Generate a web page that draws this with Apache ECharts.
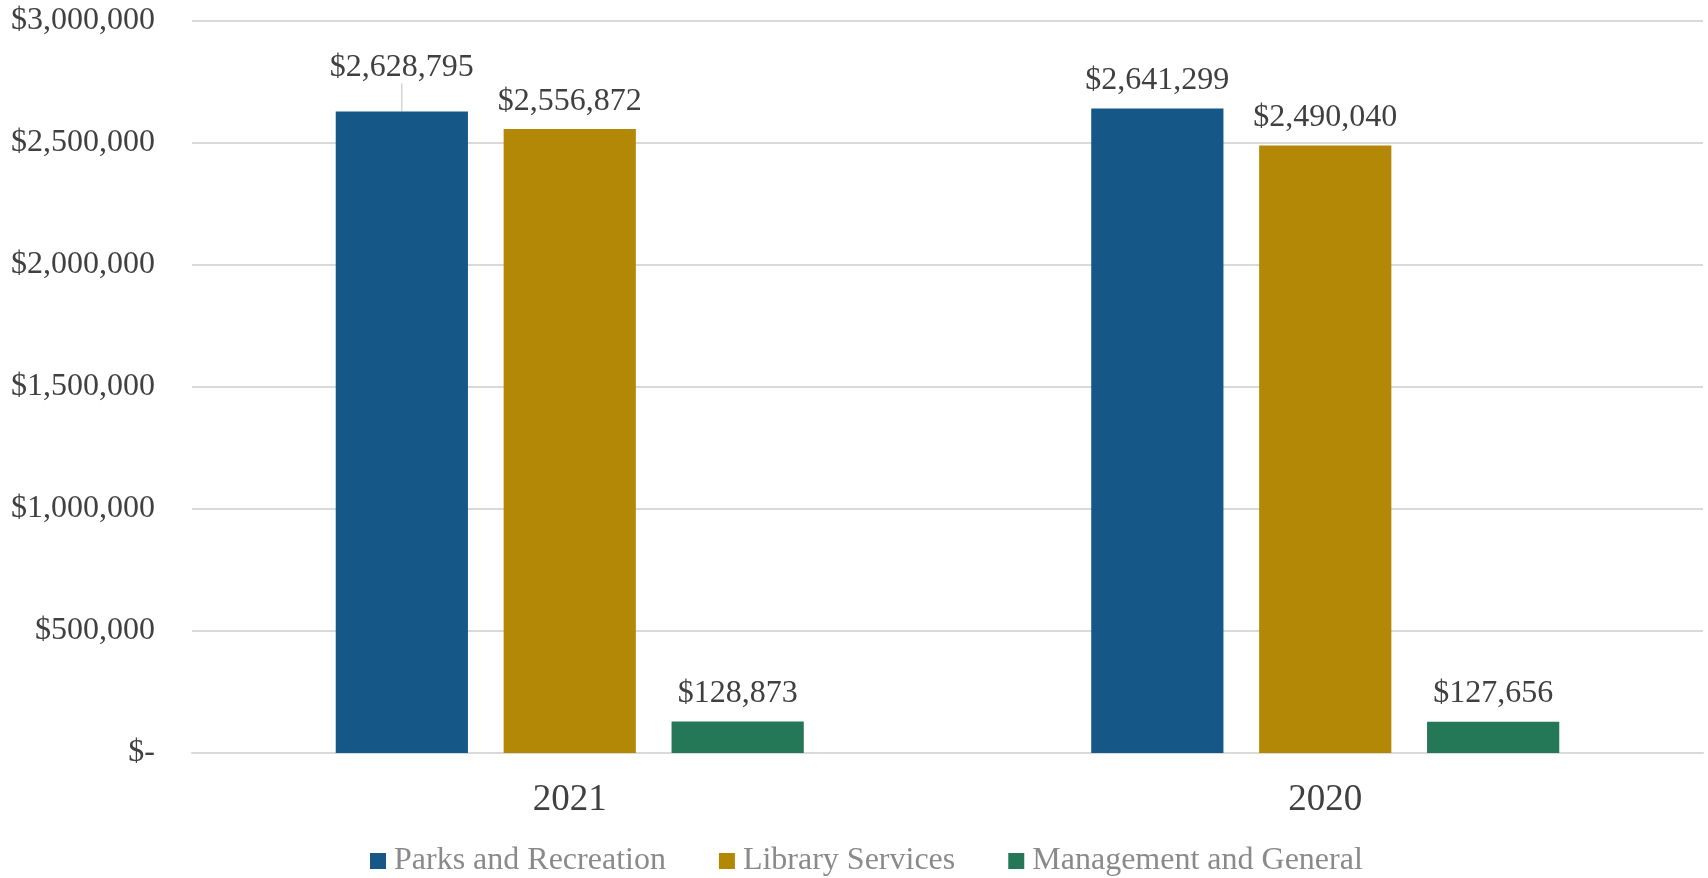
<!DOCTYPE html>
<html>
<head>
<meta charset="utf-8">
<script src="https://cdn.jsdelivr.net/npm/echarts@6/dist/echarts.min.js"></script>
<style>
html,body{margin:0;padding:0;background:#fff;}
#chart{width:1708px;height:878px;}
</style>
</head>
<body>
<div id="chart"></div>
<script>
var categories = ['2021', '2020'];
var seriesNames = ['Parks and Recreation', 'Library Services', 'Management and General'];
var parksValues = [2628795, 2641299];
var libraryValues = [2556872, 2490040];
var managementValues = [128873, 127656];
var yTickMax = 3000000;
var yTickInterval = 500000;
var colors = ['#155787', '#B38807', '#257857'];

var FONT = "'Liberation Serif', 'Times New Roman', serif";

function money(v) {
  if (v === 0) return '$-';
  return '$' + v.toLocaleString('en-US');
}

var chart = echarts.init(document.getElementById('chart'), null, {renderer: 'canvas'});

function mkSeries(name, values, color, idx) {
  var data = values.map(function (v, i) {
    var item = {value: v};
    if (idx === 0 && i === 0) {
      item.labelLine = {show: true, lineStyle: {color: '#bfbfbf', width: 1}};
    } else {
      item.labelLine = {show: false};
    }
    return item;
  });
  return {
    name: name,
    type: 'bar',
    data: data,
    barWidth: '17.5%',
    barGap: '27%',
    barCategoryGap: '38%',
    itemStyle: {color: color},
    label: {
      show: true,
      position: 'top',
      distance: 12,
      fontFamily: FONT,
      fontSize: 32,
      color: '#404040',
      formatter: function (p) { return money(p.value); }
    },
    labelLayout: idx === 0 ? function (p) {
      if (p.dataIndex === 0) return {dy: -16};
      return {};
    } : undefined
  };
}

chart.setOption({
  animation: false,
  backgroundColor: '#ffffff',
  color: colors,
  grid: {left: 192, right: 5, top: 21, bottom: 125, containLabel: false},
  legend: {
    bottom: -4,
    left: 365,
    itemWidth: 16,
    itemHeight: 16,
    itemGap: 53,
    icon: 'rect',
    textStyle: {fontFamily: FONT, fontSize: 32, color: '#8a8a8a', padding: [0, 0, 0, 3]},
    data: seriesNames
  },
  xAxis: {
    type: 'category',
    data: categories,
    axisLine: {show: true, lineStyle: {color: '#d9d9d9', width: 2}},
    axisTick: {show: false},
    axisLabel: {fontFamily: FONT, fontSize: 37, color: '#404040', margin: 29}
  },
  yAxis: {
    type: 'value',
    min: 0,
    max: yTickMax,
    interval: yTickInterval,
    axisLine: {show: false},
    axisTick: {show: false},
    splitLine: {lineStyle: {color: '#d9d9d9', width: 2}},
    axisLabel: {
      fontFamily: FONT, fontSize: 32, color: '#404040', margin: 37,
      formatter: function (v) { return money(v); }
    }
  },
  series: [
    mkSeries(seriesNames[0], parksValues, colors[0], 0),
    mkSeries(seriesNames[1], libraryValues, colors[1], 1),
    mkSeries(seriesNames[2], managementValues, colors[2], 2)
  ]
});
</script>
</body>
</html>
